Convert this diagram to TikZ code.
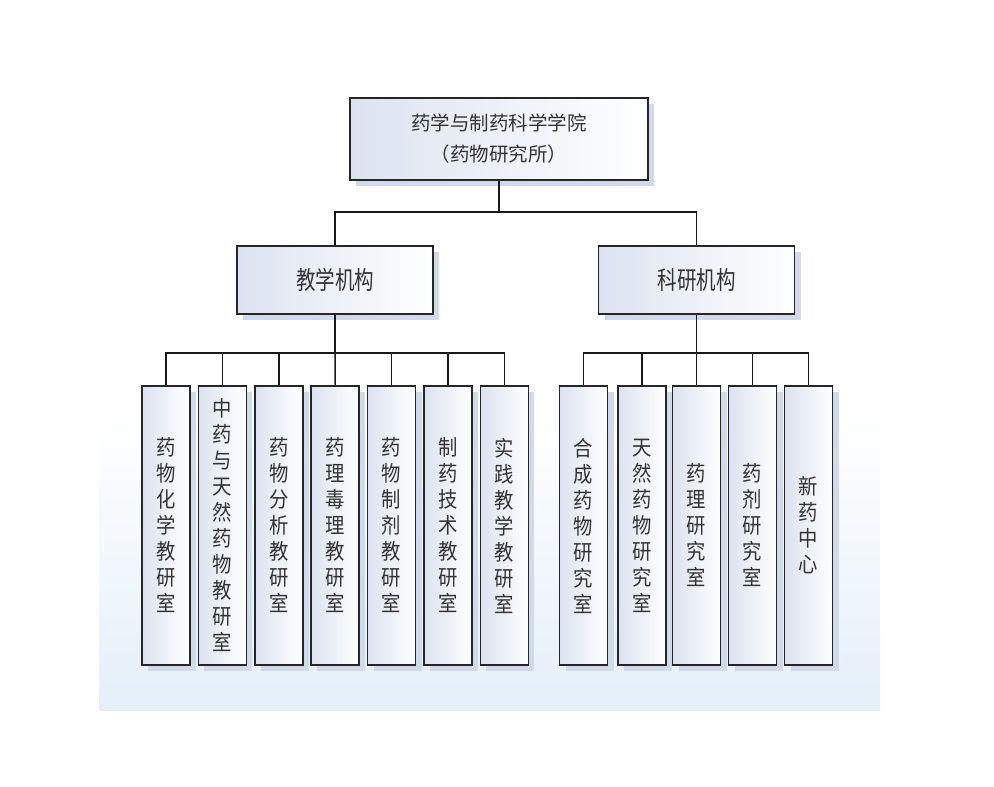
\documentclass[tikz,border=0pt]{standalone}
\usepackage{fontspec}
\setmainfont{Noto Sans CJK SC}
\newfontfamily\unitfont{Noto Sans CJK SC}[FakeStretch=0.78]
\newfontfamily\leaffont{Noto Sans CJK SC}[FakeStretch=0.9]
\usetikzlibrary{shadows}
\definecolor{shadowblue}{RGB}{208,218,234}
\definecolor{boxblue}{RGB}{220,227,240}
\definecolor{washblue}{RGB}{228,239,249}

\begin{document}
\begin{tikzpicture}[x=1pt,y=-1pt]

\tikzset{box/.style = {draw=black!85, line width=1.6pt, left color=boxblue, right color=white, inner sep=0pt, text=black!80,
  drop shadow={shadow xshift=6pt, shadow yshift=-6pt, fill=shadowblue, opacity=1}}}
\tikzset{leaf/.style = {box, minimum width=48pt, minimum height=279pt, align=center, font=\leaffont\fontsize{21.5}{26}\selectfont}}
\tikzset{unit/.style = {box, minimum width=196pt, minimum height=68pt, font=\unitfont\fontsize{25}{28}\selectfont}}
\tikzset{link/.style = {draw=black!90, line width=1.4pt}}
\useasboundingbox (0,0) rectangle (994,787);
%background
\shade[top color=white, bottom color=washblue] (99,420) rectangle (880,710);
%top
\node[box, minimum width=298pt, minimum height=82pt, align=center, font=\fontsize{19.5}{31}\selectfont] (school) at (499,139) {药学与制药科学学院\\（药物研究所）};
%units
\node[unit] (teach) at (335,280) {教学机构};
\node[unit] (research) at (696.5,280) {科研机构};
%teaching offices
\node[leaf] (t1) at (166,525.5) {药\\物\\化\\学\\教\\研\\室};
\node[leaf] (t2) at (222.4,525.5) {中\\药\\与\\天\\然\\药\\物\\教\\研\\室};
\node[leaf] (t3) at (278.8,525.5) {药\\物\\分\\析\\教\\研\\室};
\node[leaf] (t4) at (335.2,525.5) {药\\理\\毒\\理\\教\\研\\室};
\node[leaf] (t5) at (391.6,525.5) {药\\物\\制\\剂\\教\\研\\室};
\node[leaf] (t6) at (448,525.5) {制\\药\\技\\术\\教\\研\\室};
\node[leaf] (t7) at (504.4,525.5) {实\\践\\教\\学\\教\\研\\室};
%research offices
\node[leaf] (r1) at (583.5,525.5) {合\\成\\药\\物\\研\\究\\室};
\node[leaf] (r2) at (642,525.5) {天\\然\\药\\物\\研\\究\\室};
\node[leaf] (r3) at (696.5,525.5) {药\\理\\研\\究\\室};
\node[leaf] (r4) at (752.5,525.5) {药\\剂\\研\\究\\室};
\node[leaf] (r5) at (808.5,525.5) {新\\药\\中\\心};
%links
\draw[link] (school.south) -- ++(0,31) -| (teach.north);
\draw[link] (school.south) -- ++(0,31) -| (research.north);
\draw[link] (teach.south) -- ++(0,38) -| (t1.north);
\draw[link] (teach.south) -- ++(0,38) -| (t2.north);
\draw[link] (teach.south) -- ++(0,38) -| (t3.north);
\draw[link] (teach.south) -- (t4.north);
\draw[link] (teach.south) -- ++(0,38) -| (t5.north);
\draw[link] (teach.south) -- ++(0,38) -| (t6.north);
\draw[link] (teach.south) -- ++(0,38) -| (t7.north);
\draw[link] (research.south) -- ++(0,38) -| (r1.north);
\draw[link] (research.south) -- ++(0,38) -| (r2.north);
\draw[link] (research.south) -- (r3.north);
\draw[link] (research.south) -- ++(0,38) -| (r4.north);
\draw[link] (research.south) -- ++(0,38) -| (r5.north);

\end{tikzpicture}
\end{document}
